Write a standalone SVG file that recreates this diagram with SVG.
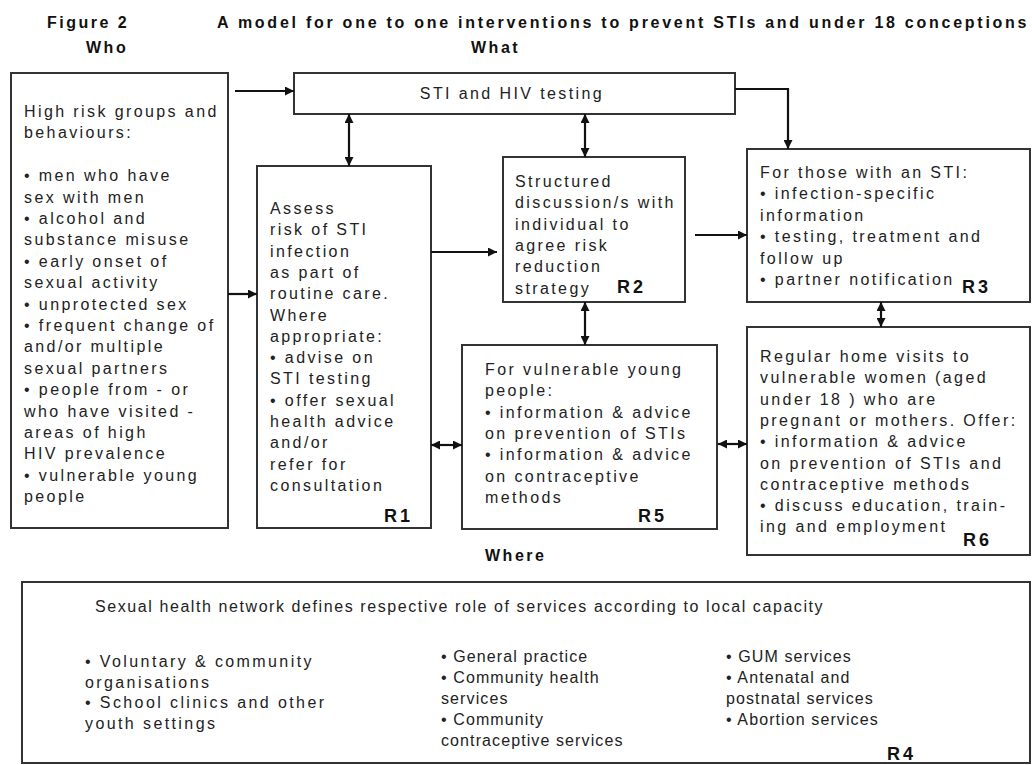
<svg xmlns="http://www.w3.org/2000/svg" width="1032" height="765" viewBox="0 0 1032 765">
<defs>
<marker id="ah" viewBox="0 0 10 10" refX="10" refY="5" markerWidth="9" markerHeight="9" markerUnits="userSpaceOnUse" orient="auto-start-reverse">
<path d="M0,0 L10,5 L0,10 z" fill="#111"/>
</marker>
<style>
.box{fill:#fff;stroke:#333;stroke-width:2}
.t{font-family:"Liberation Sans",Arial,sans-serif;font-size:16px;letter-spacing:2.4px;fill:#222}
.n{letter-spacing:1.1px}
.b{font-family:"Liberation Sans",Arial,sans-serif;font-size:16px;font-weight:bold;letter-spacing:2.5px;fill:#111}
.r{font-family:"Liberation Sans",Arial,sans-serif;font-size:18px;font-weight:bold;letter-spacing:3px;fill:#111}
.c{fill:none;stroke:#111;stroke-width:2.2}
</style>
</defs>
<rect width="1032" height="765" fill="#fff"/>
<g id="headings">
<text class="b" x="47" y="28">Figure 2</text>
<text class="b" x="217" y="28" textLength="812" lengthAdjust="spacing">A model for one to one interventions to prevent STIs and under 18 conceptions</text>
<text class="b" x="86" y="53">Who</text>
<text class="b" x="471" y="53">What</text>
<text class="b" x="485" y="561">Where</text>
</g>
<g id="who">
<rect class="box" x="11" y="73" width="217" height="455"/>
<text class="t" x="24" y="117">High risk groups and</text>
<text class="t" x="24" y="138.4">behaviours:</text>
<text class="t" x="24" y="181.2">• men who have</text>
<text class="t" x="24" y="202.6">sex with men</text>
<text class="t" x="24" y="224">• alcohol and</text>
<text class="t" x="24" y="245.4">substance misuse</text>
<text class="t" x="24" y="266.8">• early onset of</text>
<text class="t" x="24" y="288.2">sexual activity</text>
<text class="t" x="24" y="309.6">• unprotected sex</text>
<text class="t" x="24" y="331">• frequent change of</text>
<text class="t" x="24" y="352.4">and/or multiple</text>
<text class="t" x="24" y="373.8">sexual partners</text>
<text class="t" x="24" y="395.2">• people from - or</text>
<text class="t" x="24" y="416.6">who have visited -</text>
<text class="t" x="24" y="438">areas of high</text>
<text class="t" x="24" y="459.4">HIV prevalence</text>
<text class="t" x="24" y="480.8">• vulnerable young</text>
<text class="t" x="24" y="502.2">people</text>
</g>
<g id="testing">
<rect class="box" x="294" y="73" width="441" height="41"/>
<text class="t" x="512" y="99" text-anchor="middle">STI and HIV testing</text>
</g>
<g id="r1">
<rect class="box" x="257" y="166" width="174" height="362"/>
<text class="t" x="270" y="214">Assess</text>
<text class="t" x="270" y="235.3">risk of STI</text>
<text class="t" x="270" y="256.6">infection</text>
<text class="t" x="270" y="277.9">as part of</text>
<text class="t" x="270" y="299.2">routine care.</text>
<text class="t" x="270" y="320.5">Where</text>
<text class="t" x="270" y="341.8">appropriate:</text>
<text class="t" x="270" y="363.1">•  advise on</text>
<text class="t" x="270" y="384.4">STI  testing</text>
<text class="t" x="270" y="405.7">•  offer sexual</text>
<text class="t" x="270" y="427">health advice</text>
<text class="t" x="270" y="448.3">and/or</text>
<text class="t" x="270" y="469.6">refer for</text>
<text class="t" x="270" y="490.9">consultation</text>
<text class="r" x="384" y="522">R1</text>
</g>
<g id="r2">
<rect class="box" x="503" y="157" width="182" height="145"/>
<text class="t" x="515" y="187">Structured</text>
<text class="t" x="515" y="208.3">discussion/s with</text>
<text class="t" x="515" y="229.6">individual to</text>
<text class="t" x="515" y="250.9">agree risk</text>
<text class="t" x="515" y="272.2">reduction</text>
<text class="t" x="515" y="293.5">strategy</text>
<text class="r" x="617" y="293">R2</text>
</g>
<g id="r3">
<rect class="box" x="747" y="149" width="283" height="153"/>
<text class="t" x="760" y="178">For those with an STI:</text>
<text class="t" x="760" y="199.4">• infection-specific</text>
<text class="t" x="760" y="220.8">information</text>
<text class="t" x="760" y="242.2">• testing, treatment and</text>
<text class="t" x="760" y="263.6">follow up</text>
<text class="t" x="760" y="285">• partner notification</text>
<text class="r" x="962" y="293">R3</text>
</g>
<g id="r5">
<rect class="box" x="462" y="345" width="255" height="184"/>
<text class="t" x="485" y="375">For vulnerable young</text>
<text class="t" x="485" y="396.3">people:</text>
<text class="t" x="485" y="417.6">• information &amp; advice</text>
<text class="t" x="485" y="438.9">on prevention of STIs</text>
<text class="t" x="485" y="460.2">• information &amp; advice</text>
<text class="t" x="485" y="481.5">on contraceptive</text>
<text class="t" x="485" y="502.8">methods</text>
<text class="r" x="638" y="522">R5</text>
</g>
<g id="r6">
<rect class="box" x="747" y="327" width="283" height="228"/>
<text class="t" x="760" y="362">Regular home visits to</text>
<text class="t" x="760" y="383.3">vulnerable women (aged</text>
<text class="t" x="760" y="404.6">under 18 ) who are</text>
<text class="t" x="760" y="425.9">pregnant or mothers. Offer:</text>
<text class="t" x="760" y="447.2">• information &amp; advice</text>
<text class="t" x="760" y="468.5">on prevention of STIs and</text>
<text class="t" x="760" y="489.8">contraceptive methods</text>
<text class="t" x="760" y="511.1">• discuss education, train-</text>
<text class="t" x="760" y="532.4">ing and employment</text>
<text class="r" x="963" y="546">R6</text>
</g>
<g id="r4">
<rect class="box" x="22" y="582" width="1008" height="181"/>
<text class="t" x="95" y="612" textLength="730" lengthAdjust="spacing">Sexual health network defines respective role of services according to local capacity</text>
<text class="t" x="85" y="667">• Voluntary &amp; community</text>
<text class="t" x="85" y="687.5">organisations</text>
<text class="t" x="85" y="708">• School clinics and other</text>
<text class="t" x="85" y="728.5">youth settings</text>
<text class="t n" x="441" y="662">• General practice</text>
<text class="t n" x="441" y="683">• Community health</text>
<text class="t n" x="441" y="704">services</text>
<text class="t n" x="441" y="725">• Community</text>
<text class="t n" x="441" y="746">contraceptive services</text>
<text class="t n" x="726" y="662">• GUM services</text>
<text class="t n" x="726" y="683">• Antenatal and</text>
<text class="t n" x="726" y="704">postnatal services</text>
<text class="t n" x="726" y="725">• Abortion services</text>
<text class="r" x="887" y="760">R4</text>
</g>
<g id="connectors">
<path class="c" d="M235,91 H294" marker-end="url(#ah)"/>
<path class="c" d="M735,89 H788 V149" marker-end="url(#ah)"/>
<path class="c" d="M349,114 V166" marker-start="url(#ah)" marker-end="url(#ah)"/>
<path class="c" d="M585,114 V157" marker-start="url(#ah)" marker-end="url(#ah)"/>
<path class="c" d="M228,294 H257" marker-end="url(#ah)"/>
<path class="c" d="M431,252 H497" marker-end="url(#ah)"/>
<path class="c" d="M695,235 H747" marker-end="url(#ah)"/>
<path class="c" d="M585,302 V345" marker-start="url(#ah)" marker-end="url(#ah)"/>
<path class="c" d="M881,302 V327" marker-start="url(#ah)" marker-end="url(#ah)"/>
<path class="c" d="M431,445 H462" marker-start="url(#ah)" marker-end="url(#ah)"/>
<path class="c" d="M718,444 H747" marker-start="url(#ah)" marker-end="url(#ah)"/>
</g>
</svg>
